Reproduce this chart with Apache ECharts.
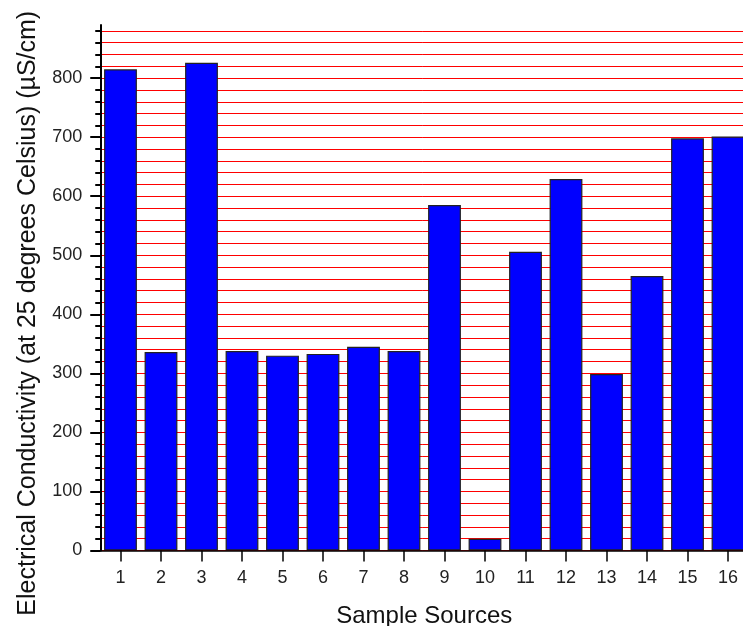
<!DOCTYPE html>
<html>
<head>
<meta charset="utf-8">
<script src="https://cdn.jsdelivr.net/npm/echarts@6/dist/echarts.min.js"></script>
<style>
html,body{margin:0;padding:0;background:#fff;}
#chart{width:743px;height:626px;}
</style>
</head>
<body>
<div id="chart"></div>
<script>
const categories = ['1','2','3','4','5','6','7','8','9','10','11','12','13','14','15','16'];
const conductivity = [815, 336, 826, 338, 330, 333, 345, 338, 585, 20, 506, 629, 299, 465, 698, 701];
const majorTicks = [0, 100, 200, 300, 400, 500, 600, 700, 800];
const yMax = 890;        // top of the drawn axis line
const gridMax = 880;     // last red grid line
const gridStep = 20;     // red grid line / minor tick spacing

const font = 'Liberation Sans, Arial, sans-serif';
const plotTop = 25, plotBottom = 75.5, plotLeft = 100.25, plotRight = -5.25;
const plotHeight = 626 - plotTop - plotBottom;
const gridTop = plotTop + (yMax - gridMax) * plotHeight / yMax;

const chart = echarts.init(document.getElementById('chart'), null, {renderer: 'canvas'});
chart.setOption({
  animation: false,
  backgroundColor: '#ffffff',
  grid: [
    {left: plotLeft, right: plotRight, top: plotTop, bottom: plotBottom, containLabel: false, outerBoundsMode: 'none'},
    {left: plotLeft, right: plotRight, top: gridTop, bottom: plotBottom, containLabel: false, outerBoundsMode: 'none'}
  ],
  xAxis: [{
    type: 'category',
    data: categories,
    gridIndex: 0,
    boundaryGap: true,
    name: 'Sample Sources',
    nameLocation: 'middle',
    nameGap: 54,
    nameTextStyle: {fontFamily: font, fontSize: 24, color: '#111'},
    axisLine: {show: true, lineStyle: {color: '#000', width: 1.5}},
    axisTick: {show: true, alignWithLabel: true, length: 11, lineStyle: {color: '#000', width: 1.5}},
    axisLabel: {fontFamily: font, fontSize: 18, color: '#222', margin: 19},
    splitLine: {show: false},
    z: 5
  }, {
    type: 'category',
    data: categories,
    gridIndex: 1,
    show: false
  }],
  yAxis: [{
    type: 'value',
    gridIndex: 0,
    min: 0,
    max: yMax,
    position: 'left',
    name: 'Electrical Conductivity (at 25 degrees Celsius) (µS/cm)',
    nameLocation: 'middle',
    nameGap: 60,
    nameTextStyle: {fontFamily: font, fontSize: 25, color: '#111', padding: [0, 51, 0, 0]},
    axisLine: {show: true, lineStyle: {color: '#000', width: 2}},
    axisTick: {show: true, length: 10, customValues: majorTicks, lineStyle: {color: '#000', width: 2}},
    axisLabel: {show: true, customValues: majorTicks, fontFamily: font, fontSize: 18, color: '#222', margin: 18},
    splitLine: {show: false},
    z: 5
  }, {
    type: 'value',
    gridIndex: 1,
    min: 0,
    max: gridMax,
    interval: gridStep,
    position: 'left',
    axisLine: {show: false},
    axisTick: {show: true, length: 5, lineStyle: {color: '#000', width: 2}},
    axisLabel: {show: false},
    splitLine: {show: true, lineStyle: {color: '#ff0000', width: 1}},
    z: 0
  }],
  series: [{
    type: 'bar',
    xAxisIndex: 0,
    yAxisIndex: 0,
    data: conductivity,
    barWidth: '81%',
    itemStyle: {color: '#0000ff', borderColor: '#222', borderWidth: 1.2},
    z: 3
  }]
});
</script>
</body>
</html>
